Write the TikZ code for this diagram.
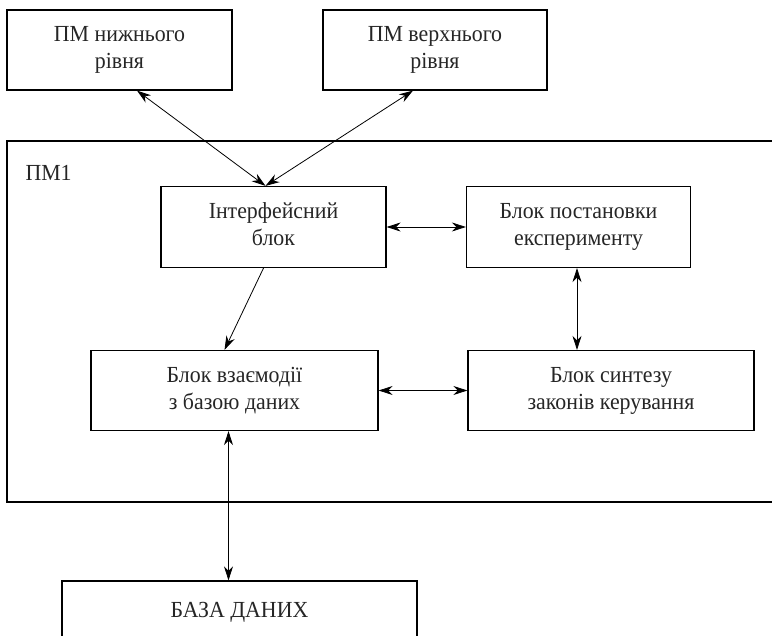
\documentclass[tikz,border=0pt]{standalone}
\usepackage{fontspec}
\setmainfont[FakeStretch=0.95]{Liberation Serif}
\usetikzlibrary{arrows.meta}

\begin{document}
\begin{tikzpicture}[x=1pt, y=-1pt,
  every node/.style={font=\rmfamily\fontsize{23}{27}\selectfont, align=center, text=black!85},
  block/.style={draw, line width=1.2pt, fill=white, inner sep=0pt, text depth=5pt},
  link/.style={line width=0.8pt, {Stealth[length=14pt,width=9pt]}-{Stealth[length=14pt,width=9pt]}},
  feed/.style={line width=0.8pt, -{Stealth[length=14pt,width=9pt]}}]
  \useasboundingbox (0,0) rectangle (772,636);

  % outer modules
  \node[block, minimum width=225pt, minimum height=80pt] (lower) at (119.5,50) {ПМ нижнього\\рівня};
  \node[block, minimum width=224pt, minimum height=80pt] (upper) at (435,50) {ПМ верхнього\\рівня};

  % PM1 frame, runs off to the right
  \node[draw, line width=1.2pt, minimum width=793pt, minimum height=361pt] (pm1) at (403.5,321.5) {};
  \node[anchor=west] (pm1label) at (22,173) {ПМ1};

  % blocks inside PM1
  \node[block, minimum width=225pt, minimum height=81pt] (iface) at (273.5,227) {Інтерфейсний\\блок};
  \node[block, minimum width=224pt, minimum height=81pt] (exper) at (578.5,227) {Блок постановки\\експерименту};
  \node[block, minimum width=287pt, minimum height=80pt] (dbint) at (234.5,390.5) {Блок взаємодії\\з базою даних};
  \node[block, minimum width=286pt, minimum height=80pt] (synth) at (611,390.5) {Блок синтезу\\законів керування};

  % database
  \node[block, minimum width=355pt, minimum height=62pt] (db) at (239.5,612) {БАЗА ДАНИХ};

  % links
  \draw[link] ([xshift=17.5pt]lower.south) -- ([xshift=-8pt]iface.north);
  \draw[link] ([xshift=-22pt]upper.south) -- ([xshift=-8pt]iface.north);
  \draw[link] (iface.east) -- (exper.west);
  \draw[feed] ([xshift=-10pt]iface.south) -- ([xshift=-10pt]dbint.north);
  \draw[link] ([xshift=-1.5pt]exper.south) -- ([xshift=-1.5pt]exper.south |- synth.north);
  \draw[link] (dbint.east) -- (synth.west);
  \draw[link] ([xshift=-6pt]dbint.south) -- ([xshift=-6pt]dbint.south |- db.north);
\end{tikzpicture}
\end{document}
